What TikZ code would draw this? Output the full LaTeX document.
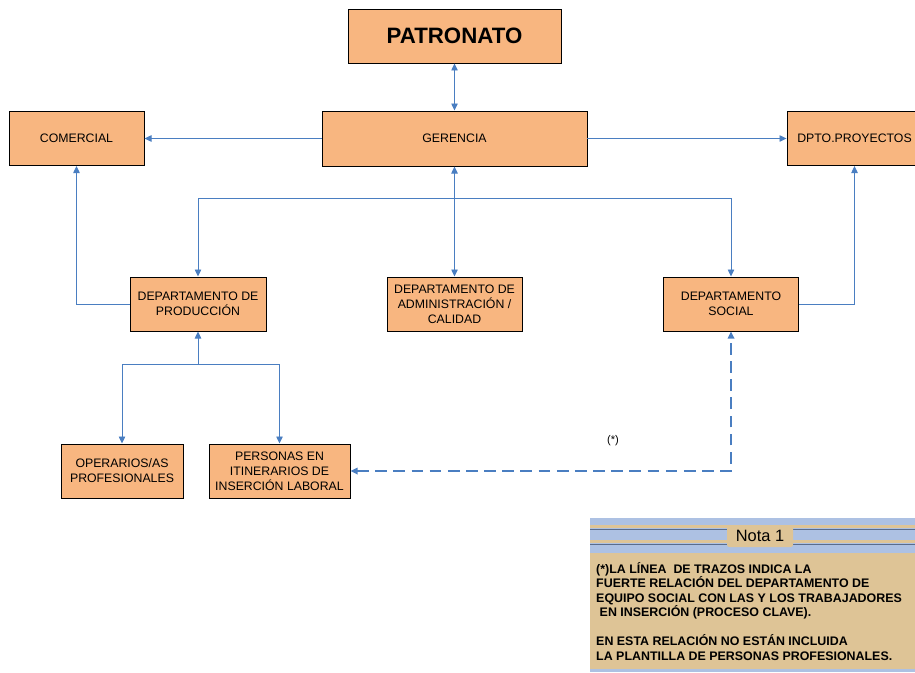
\documentclass[tikz,border=0pt]{standalone}
\usepackage{fontspec}
\setmainfont{Liberation Sans}
\usetikzlibrary{arrows.meta}
\definecolor{cajanaranja}{RGB}{248,182,128}
\definecolor{lineaazul}{RGB}{74,126,193}
\definecolor{notaazul}{RGB}{173,193,227}
\definecolor{notatan}{RGB}{222,196,150}
\definecolor{notaraya}{RGB}{90,108,140}
\tikzset{
	caja/.style={draw=black, line width=0.8pt, fill=cajanaranja, inner sep=0pt, align=center,
		minimum width=40.5mm, minimum height=16.2mm, font=\fontsize{10.5}{12.8}\selectfont},
	flecha/.style={draw=lineaazul, line width=0.8pt},
	trazos/.style={flecha, line width=1.6pt, dash pattern=on 10pt off 5.5pt}
}
\begin{document}
\begin{tikzpicture}[x=0.3mm, y=-0.3mm, >={Triangle[length=6pt,width=5.5pt]}]
		\clip (0,0) rectangle (915,672);
		\node[caja, minimum width=63.9mm, font=\bfseries\fontsize{19}{21}\selectfont] (patronato) at (454.5,36) {PATRONATO};
		\node[caja, minimum width=79.5mm, minimum height=16.5mm] (gerencia) at (454.5,138.5) {GERENCIA};
		\node[caja] (comercial) at (76.5,138.5) {COMERCIAL};
		\node[caja] (proyectos) at (854.5,138.5) {DPTO.PROYECTOS};
		\node[caja, minimum width=40.8mm] (produccion) at (198,304) {DEPARTAMENTO DE\\PRODUCCIÓN};
		\node[caja] (administracion) at (454.5,304) {DEPARTAMENTO DE\\ADMINISTRACIÓN /\\CALIDAD};
		\node[caja] (social) at (731,304) {DEPARTAMENTO\\SOCIAL};
		\node[caja, minimum width=36.6mm] (operarios) at (122,471) {OPERARIOS/AS\\PROFESIONALES};
		\node[caja, minimum width=42.3mm] (personas) at (279.5,471) {PERSONAS EN\\ITINERARIOS DE\\INSERCIÓN LABORAL};
		\coordinate (bus) at (454.5,198);
		\coordinate (busprod) at (198,364);
		\draw[flecha, <->] (patronato) -- (gerencia);
		\draw[flecha, ->] (gerencia) -- (comercial);
		\draw[flecha, ->] (gerencia) -- (proyectos);
		\draw[flecha, <->] (gerencia) -- (administracion);
		\draw[flecha, ->] (bus) -| (produccion);
		\draw[flecha, ->] (bus) -| (social);
		\draw[flecha, ->] (produccion.west) -| (comercial.south);
		\draw[flecha, ->] (social.east) -| (proyectos.south);
		\draw[flecha, ->] (busprod) -- (produccion);
		\draw[flecha, ->] (busprod) -| (operarios);
		\draw[flecha, ->] (busprod) -| (personas);
		\draw[trazos, <->] (personas.east) -| (social.south);
		\node[font=\fontsize{9.5}{11}\selectfont] (asterisco) at (613,441) {(*)};
		\fill[notaazul] (590,518) rectangle (920,553);
		\fill[notatan] (590,525) rectangle (920,527.5);
		\fill[notaraya] (590,528.5) rectangle (920,529.7);
		\fill[notatan] (590,540) rectangle (920,542.5);
		\fill[notaraya] (590,543.5) rectangle (920,544.7);
		\fill[notatan] (590,553) rectangle (920,669);
		\fill[notaazul] (590,669) rectangle (920,672);
		\node[fill=notatan, rounded corners=2pt, minimum width=19.8mm, minimum height=6.6mm, inner sep=0pt,
			font=\fontsize{14}{16}\selectfont] (nota) at (760,536) {Nota 1};
		\node[anchor=base west, inner sep=0pt, align=left, font=\bfseries\fontsize{10.6}{12.3}\selectfont] (notatexto) at (596,660)
			{(*)LA LÍNEA \ DE TRAZOS INDICA LA\\FUERTE RELACIÓN DEL DEPARTAMENTO DE\\EQUIPO SOCIAL CON LAS Y LOS TRABAJADORES\\\hspace*{0.28em}EN INSERCIÓN (PROCESO CLAVE).\\[12.3pt]EN ESTA RELACIÓN NO ESTÁN INCLUIDA\\LA PLANTILLA DE PERSONAS PROFESIONALES.};
	\end{tikzpicture}
\end{document}
